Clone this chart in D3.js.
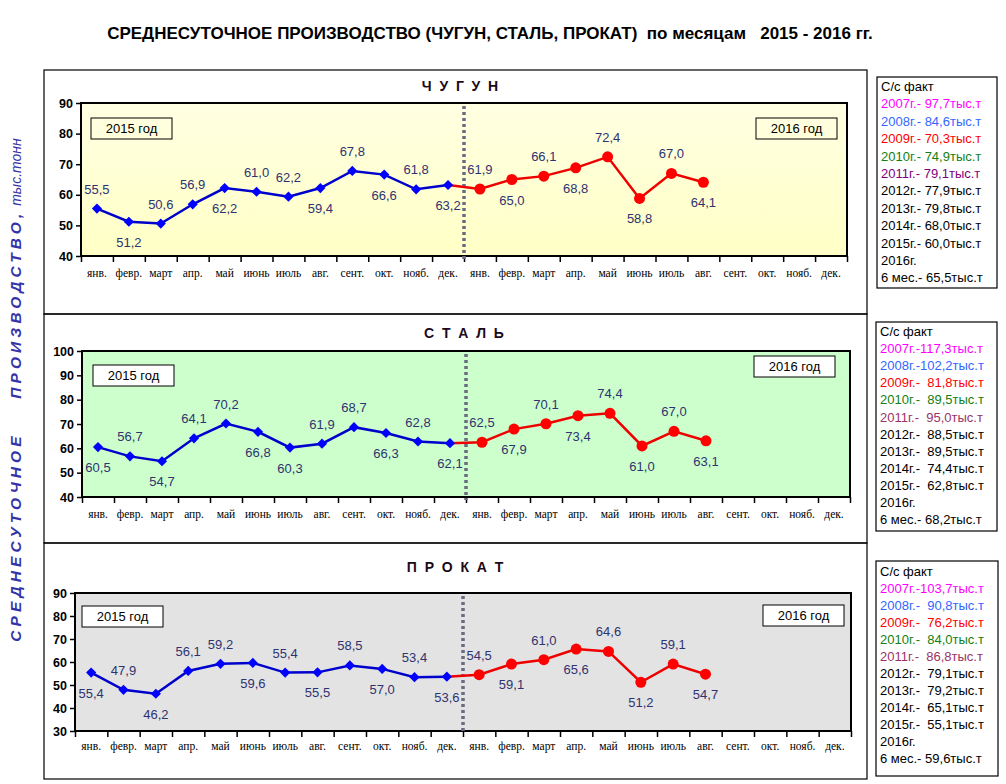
<!DOCTYPE html>
<html>
<head>
<meta charset="utf-8">
<script src="https://cdn.jsdelivr.net/npm/d3@7"></script>
<style>
  body { margin: 0; background: #fff; }
  svg { display: block; font-family: "Liberation Sans", Arial, sans-serif; }
  text { white-space: pre; }
</style>
</head>
<body>
<svg id="svg1" width="1006" height="784"></svg>
<script>
// month names, repeated for two years
var months = ["янв.", "февр.", "март", "апр.", "май", "июнь", "июль", "авг.", "сент.", "окт.", "нояб.", "дек."];
var categories = months.concat(months);

// pig iron, thousand tonnes per day
var pigIron2015 = [55.5, 51.2, 50.6, 56.9, 62.2, 61.0, 59.4, 62.2, 67.8, 66.6, 61.8, 63.2];
var pigIron2016 = [61.9, 65.0, 66.1, 68.8, 72.4, 58.8, 67.0, 64.1];
var pigIronLabels2015 = ["55,5", "51,2", "50,6", "56,9", "62,2", "61,0", "62,2", "59,4", "67,8", "66,6", "61,8", "63,2"];
var pigIronLabels2016 = ["61,9", "65,0", "66,1", "68,8", "72,4", "58,8", "67,0", "64,1"];

// steel
var steel2015 = [60.5, 56.7, 54.7, 64.1, 70.2, 66.8, 60.3, 61.9, 68.7, 66.3, 62.8, 62.1];
var steel2016 = [62.5, 67.9, 70.1, 73.4, 74.4, 61.0, 67.0, 63.1];
var steelLabels2015 = ["60,5", "56,7", "54,7", "64,1", "70,2", "66,8", "60,3", "61,9", "68,7", "66,3", "62,8", "62,1"];
var steelLabels2016 = ["62,5", "67,9", "70,1", "73,4", "74,4", "61,0", "67,0", "63,1"];

// rolled products
var rolled2015 = [55.4, 47.9, 46.2, 56.1, 59.2, 59.6, 55.4, 55.5, 58.5, 57.0, 53.4, 53.6];
var rolled2016 = [54.5, 59.1, 61.0, 65.6, 64.6, 51.2, 59.1, 54.7];
var rolledLabels2015 = ["55,4", "47,9", "46,2", "56,1", "59,2", "59,6", "55,4", "55,5", "58,5", "57,0", "53,4", "53,6"];
var rolledLabels2016 = ["54,5", "59,1", "61,0", "65,6", "64,6", "51,2", "59,1", "54,7"];

// y tick values
var pigIronTicks = [40, 50, 60, 70, 80, 90];
var steelTicks = [40, 50, 60, 70, 80, 90, 100];
var rolledTicks = [30, 40, 50, 60, 70, 80, 90];

// side notes (yearly averages)
var pigIronNotes = ["С/с факт", "2007г.- 97,7тыс.т", "2008г.- 84,6тыс.т", "2009г.- 70,3тыс.т", "2010г.- 74,9тыс.т",
  "2011г.- 79,1тыс.т", "2012г.- 77,9тыс.т", "2013г.- 79,8тыс.т", "2014г.- 68,0тыс.т", "2015г.- 60,0тыс.т", "2016г.", "6 мес.- 65,5тыс.т"];
var steelNotes = ["С/с факт", "2007г.-117,3тыс.т", "2008г.-102,2тыс.т", "2009г.-  81,8тыс.т", "2010г.-  89,5тыс.т",
  "2011г.-  95,0тыс.т", "2012г.-  88,5тыс.т", "2013г.-  89,5тыс.т", "2014г.-  74,4тыс.т", "2015г.-  62,8тыс.т", "2016г.", "6 мес.- 68,2тыс.т"];
var rolledNotes = ["С/с факт", "2007г.-103,7тыс.т", "2008г.-  90,8тыс.т", "2009г.-  76,2тыс.т", "2010г.-  84,0тыс.т",
  "2011г.-  86,8тыс.т", "2012г.-  79,1тыс.т", "2013г.-  79,2тыс.т", "2014г.-  65,1тыс.т", "2015г.-  55,1тыс.т", "2016г.", "6 мес.- 59,6тыс.т"];

var svg = d3.select('#svg1');

// gradient for the pig iron plot area
var defs = svg.append('defs');
var grad = defs.append('linearGradient').attr('id', 'yellowGrad')
    .attr('x1', 0).attr('y1', 0).attr('x2', 0).attr('y2', 1);
grad.append('stop').attr('offset', '0%').attr('stop-color', '#ffffe2');
grad.append('stop').attr('offset', '100%').attr('stop-color', '#ffffc6');

// main title
svg.append('text')
    .attr('x', 490).attr('y', 39)
    .attr('text-anchor', 'middle')
    .style('font-size', '17px').style('font-weight', 'bold')
    .text('СРЕДНЕСУТОЧНОЕ ПРОИЗВОДСТВО (ЧУГУН, СТАЛЬ, ПРОКАТ)  по месяцам   2015 - 2016 гг.');

// vertical axis title
var yTitle = svg.append('text')
    .attr('transform', 'translate(21,390) rotate(-90)')
    .attr('text-anchor', 'middle')
    .style('fill', '#3434a8').style('font-style', 'italic').style('font-weight', 'bold');
yTitle.append('tspan').style('font-size', '15.5px').style('letter-spacing', '4.1px').text('СРЕДНЕСУТОЧНОЕ    ПРОИЗВОДСТВО,');
yTitle.append('tspan').style('font-size', '14px').style('font-weight', 'normal').text(' тыс.тонн');

var panels = [
  { title: 'Ч У Г У Н', frame: [44, 70, 867, 314], plot: [81, 103, 847, 256], titleY: 91, titleX: 460,
    fill: 'url(#yellowGrad)', ticks: pigIronTicks, v15: pigIron2015, v16: pigIron2016,
    l15: pigIronLabels2015, l16: pigIronLabels2016,
    side15: [-1, 1, -1, -1, 1, -1, -1, 1, -1, 1, -1, 1], side16: [-1, 1, -1, 1, -1, 1, -1, 1],
    box15: [10, 15], box16: [-91, 15], boxFill: 'none', labelDy: 23,
    notes: pigIronNotes, noteBox: [877, 77, 997, 288], noteY: 91, noteStep: 17.4, purple: '#800080' },
  { title: 'С Т А Л Ь', frame: [44, 314, 867, 543], plot: [82, 351, 850, 497], titleY: 338, titleX: 464,
    fill: '#ccffcc', ticks: steelTicks, v15: steel2015, v16: steel2016,
    l15: steelLabels2015, l16: steelLabels2016,
    side15: [1, -1, 1, -1, -1, 1, 1, -1, -1, 1, -1, 1], side16: [-1, 1, -1, 1, -1, 1, -1, 1],
    box15: [11, 14], box16: [-96, 5], boxFill: '#ffffff', labelDy: 23,
    notes: steelNotes, noteBox: [876, 322, 997, 531], noteY: 336, noteStep: 17.1, purple: '#993366' },
  { title: 'П Р О К А Т', frame: [44, 543, 867, 779], plot: [75, 593, 851, 731], titleY: 572, titleX: 455,
    fill: '#e3e3e3', ticks: rolledTicks, v15: rolled2015, v16: rolled2016,
    l15: rolledLabels2015, l16: rolledLabels2016,
    side15: [1, -1, 1, -1, -1, 1, -1, 1, -1, 1, -1, 1], side16: [-1, 1, -1, 1, -1, 1, -1, 1],
    box15: [7, 13], box16: [-88, 12], boxFill: '#ffffff', labelDy: 21,
    notes: rolledNotes, noteBox: [876, 561, 998, 776], noteY: 576, noteStep: 17, purple: '#993366' }
];

var noteColors = ['#000000', '#ff00ff', '#3366ff', '#ff0000', '#138013', null,
  '#000000', '#000000', '#000000', '#000000', '#000000', '#000000'];

panels.forEach(function (p) {
  var x0 = p.plot[0], y0 = p.plot[1], x1 = p.plot[2], y1 = p.plot[3];

  // outer frame
  svg.append('rect')
      .attr('x', p.frame[0]).attr('y', p.frame[1])
      .attr('width', p.frame[2] - p.frame[0]).attr('height', p.frame[3] - p.frame[1])
      .attr('fill', 'none').attr('stroke', '#000').attr('stroke-width', 1.2);

  svg.append('text')
      .attr('x', p.titleX).attr('y', p.titleY)
      .attr('text-anchor', 'middle')
      .style('font-size', '14px').style('font-weight', 'bold')
      .style('fill', '#1a0a1a')
      .text(p.title.split(' ').join('  '));

  var scaleX = d3.scaleBand().domain(d3.range(categories.length)).range([x0, x1]).padding(0);
  var edgeX = d3.scaleLinear().domain([0, categories.length]).range([x0, x1]);
  var scaleY = d3.scaleLinear().domain([p.ticks[0], p.ticks[p.ticks.length - 1]]).range([y1, y0]);
  var cx = function (i) { return scaleX(i) + scaleX.bandwidth() / 2; };

  // plot area
  svg.append('rect')
      .attr('x', x0).attr('y', y0).attr('width', x1 - x0).attr('height', y1 - y0)
      .attr('fill', p.fill).attr('stroke', '#000').attr('stroke-width', 2);

  // y axis
  var yAxis = svg.append('g')
      .attr('transform', 'translate(' + x0 + ',0)')
      .call(d3.axisLeft(scaleY).tickValues(p.ticks).tickSize(5).tickPadding(3));
  yAxis.select('.domain').remove();
  yAxis.selectAll('line').attr('stroke', '#000').attr('stroke-width', 1.5);
  yAxis.selectAll('text')
      .style('font-family', '"Liberation Sans", Arial, sans-serif')
      .style('font-size', '12.5px').style('font-weight', 'bold').attr('fill', '#000');

  // x axis: ticks on the band edges, labels in the band centres
  var xTicks = svg.append('g')
      .attr('transform', 'translate(0,' + y1 + ')')
      .call(d3.axisBottom(edgeX).tickValues(d3.range(categories.length + 1)).tickFormat('').tickSize(6));
  xTicks.select('.domain').remove();
  xTicks.selectAll('line').attr('stroke', '#000').attr('stroke-width', 1.5);

  var xLabels = svg.append('g')
      .attr('transform', 'translate(0,' + y1 + ')')
      .call(d3.axisBottom(scaleX).tickSize(0).tickPadding(p.labelDy - 10).tickFormat(function (i) { return categories[i]; }));
  xLabels.select('.domain').remove();
  xLabels.selectAll('text')
      .style('font-family', '"Liberation Serif", "Times New Roman", serif')
      .style('font-size', '11.5px').attr('fill', '#000');

  // divider between the two years
  svg.append('line')
      .attr('x1', edgeX(12)).attr('x2', edgeX(12))
      .attr('y1', y0 + 3).attr('y2', y1 + 3)
      .attr('stroke', '#6a6a82').attr('stroke-width', 3.5).attr('stroke-dasharray', '3,3');

  // year boxes
  [[p.box15, '2015 год', x0], [p.box16, '2016 год', x1]].forEach(function (b) {
    var bx = b[2] + b[0][0], by = y0 + b[0][1];
    svg.append('rect').attr('x', bx).attr('y', by).attr('width', 81).attr('height', 21)
        .attr('fill', p.boxFill).attr('stroke', '#000').attr('stroke-width', 1);
    svg.append('text').attr('x', bx + 40.5).attr('y', by + 15)
        .attr('text-anchor', 'middle').style('font-size', '13px').text(b[1]);
  });

  var line = d3.line().x(function (d) { return cx(d.i); }).y(function (d) { return scaleY(d.v); });

  var data15 = p.v15.map(function (v, i) { return { i: i, v: v, label: p.l15[i], side: p.side15[i] }; });
  var data16 = p.v16.map(function (v, i) { return { i: i + 12, v: v, label: p.l16[i], side: p.side16[i] }; });

  // 2016 line, starting from December 2015
  svg.append('path')
      .datum([data15[11]].concat(data16))
      .attr('d', line)
      .attr('fill', 'none').attr('stroke', '#ee0000').attr('stroke-width', 2.5);

  svg.append('path')
      .datum(data15)
      .attr('d', line)
      .attr('fill', 'none').attr('stroke', '#0000cc').attr('stroke-width', 2.5);

  // square markers turned 45 degrees
  svg.selectAll(null)
      .data(data15)
      .enter()
      .append('path')
      .attr('transform', function (d) { return 'translate(' + cx(d.i) + ',' + scaleY(d.v) + ') rotate(45)'; })
      .attr('d', d3.symbol().type(d3.symbolSquare).size(52))
      .attr('fill', '#0000ff');

  svg.selectAll(null)
      .data(data16)
      .enter()
      .append('circle')
      .attr('cx', function (d) { return cx(d.i); })
      .attr('cy', function (d) { return scaleY(d.v); })
      .attr('r', 5.5)
      .attr('fill', '#ff0000');

  // value labels
  svg.selectAll(null)
      .data(data15.concat(data16))
      .enter()
      .append('text')
      .attr('x', function (d) { return cx(d.i); })
      .attr('y', function (d) { return scaleY(d.v) + (d.side < 0 ? -15 : 25); })
      .attr('text-anchor', 'middle')
      .style('font-size', '13px')
      .style('fill', '#2e3370')
      .text(function (d) { return d.label; });

  // notes box on the right
  var nb = p.noteBox;
  svg.append('rect')
      .attr('x', nb[0]).attr('y', nb[1]).attr('width', nb[2] - nb[0]).attr('height', nb[3] - nb[1])
      .attr('fill', '#fff').attr('stroke', '#000').attr('stroke-width', 1.2);
  svg.selectAll(null)
      .data(p.notes)
      .enter()
      .append('text')
      .attr('x', nb[0] + 4)
      .attr('y', function (d, i) { return p.noteY + i * p.noteStep; })
      .style('font-size', '13px')
      .style('fill', function (d, i) { return noteColors[i] || p.purple; })
      .text(function (d) { return d; });
});
</script>
</body>
</html>
